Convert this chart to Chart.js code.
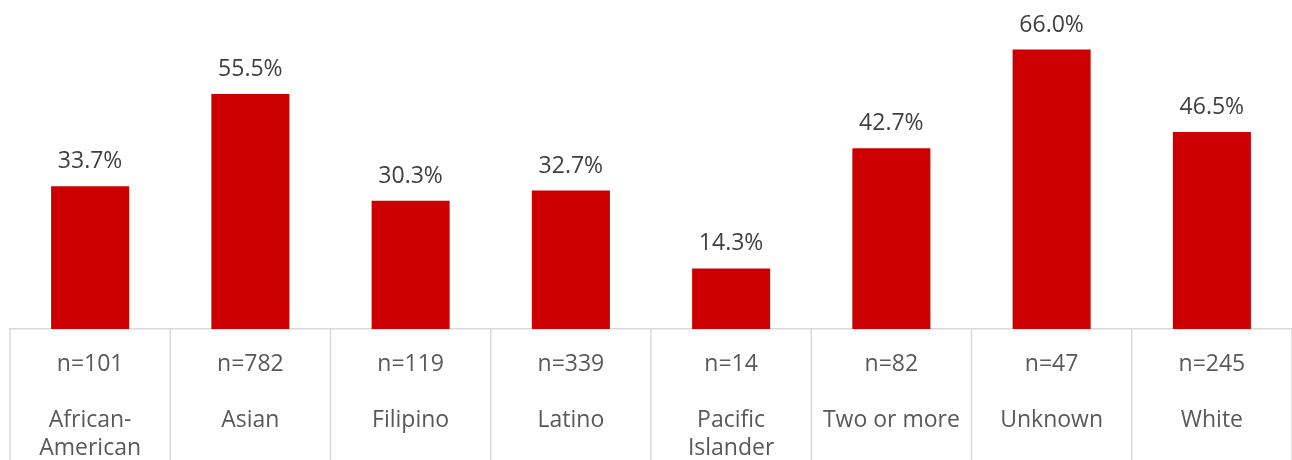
<!DOCTYPE html>
<html>
<head>
<meta charset="utf-8">
<script src="https://cdn.jsdelivr.net/npm/chart.js@4.4.1/dist/chart.umd.min.js"></script>
<style>
    html, body { margin: 0; padding: 0; background: #ffffff; overflow: hidden; }
    #wrap { position: relative; width: 1292px; height: 483px; }
</style>
</head>
<body>
<div id="wrap"><canvas id="barChart"></canvas></div>
<script>
// Chart data
const groups = [["African-", "American"], ["Asian"], ["Filipino"], ["Latino"], ["Pacific", "Islander"], ["Two or more"], ["Unknown"], ["White"]];
const sampleSizes = [101, 782, 119, 339, 14, 82, 47, 245];
const percents = [33.7, 55.5, 30.3, 32.7, 14.3, 42.7, 66.0, 46.5];
const yMax = 77.7;

const FONT = "'Open Sans', sans-serif";

// Tick labels: n= line, a blank line, then the group name
const tickLabels = groups.map((name, i) => ["n=" + sampleSizes[i], "", ...name]);

// Draw the percentage above each bar
const barValueLabels = {
    id: "barValueLabels",
    afterDatasetsDraw(chart) {
        const ctx = chart.ctx;
        const meta = chart.getDatasetMeta(0);
        ctx.save();
        ctx.font = "23px " + FONT;
        ctx.fillStyle = "#404040";
        ctx.textAlign = "center";
        ctx.textBaseline = "alphabetic";
        meta.data.forEach((bar, i) => {
            ctx.fillText(percents[i].toFixed(1) + "%", bar.x, bar.y - 18);
        });
        ctx.restore();
    }
};

// Table-style dividers between categories, below the axis line
const categoryDividers = {
    id: "categoryDividers",
    afterDraw(chart) {
        const x = chart.scales.x;
        const ctx = chart.ctx;
        ctx.save();
        ctx.strokeStyle = "#d9d9d9";
        ctx.lineWidth = 1.5;
        for (let i = 0; i <= groups.length; i++) {
            const px = x.getPixelForValue(i - 0.5);
            ctx.beginPath();
            ctx.moveTo(px, x.top);
            ctx.lineTo(px, chart.height);
            ctx.stroke();
        }
        ctx.restore();
    }
};

const ctx = document.getElementById("barChart").getContext("2d");
new Chart(ctx, {
    type: "bar",
    data: {
        labels: tickLabels,
        datasets: [{
            data: percents,
            backgroundColor: "#cc0000",
            borderWidth: 0,
            categoryPercentage: 1,
            barPercentage: 0.487
        }]
    },
    plugins: [barValueLabels, categoryDividers],
    options: {
        responsive: true,
        maintainAspectRatio: false,
        animation: false,
        layout: { padding: { left: 10, right: 0, top: 0, bottom: 0 } },
        plugins: {
            legend: { display: false },
            tooltip: { enabled: false }
        },
        scales: {
            x: {
                grid: {
                    display: true,
                    offset: true,
                    drawOnChartArea: false,
                    drawTicks: false,
                    color: "#d9d9d9"
                },
                border: { display: true, color: "#d9d9d9", width: 1.5 },
                ticks: {
                    color: "#595959",
                    font: { family: FONT, size: 23, lineHeight: "28px" },
                    padding: 21,
                    maxRotation: 0,
                    autoSkip: false
                }
            },
            y: {
                display: false,
                min: 0,
                max: yMax
            }
        }
    }
});
</script>
</body>
</html>
